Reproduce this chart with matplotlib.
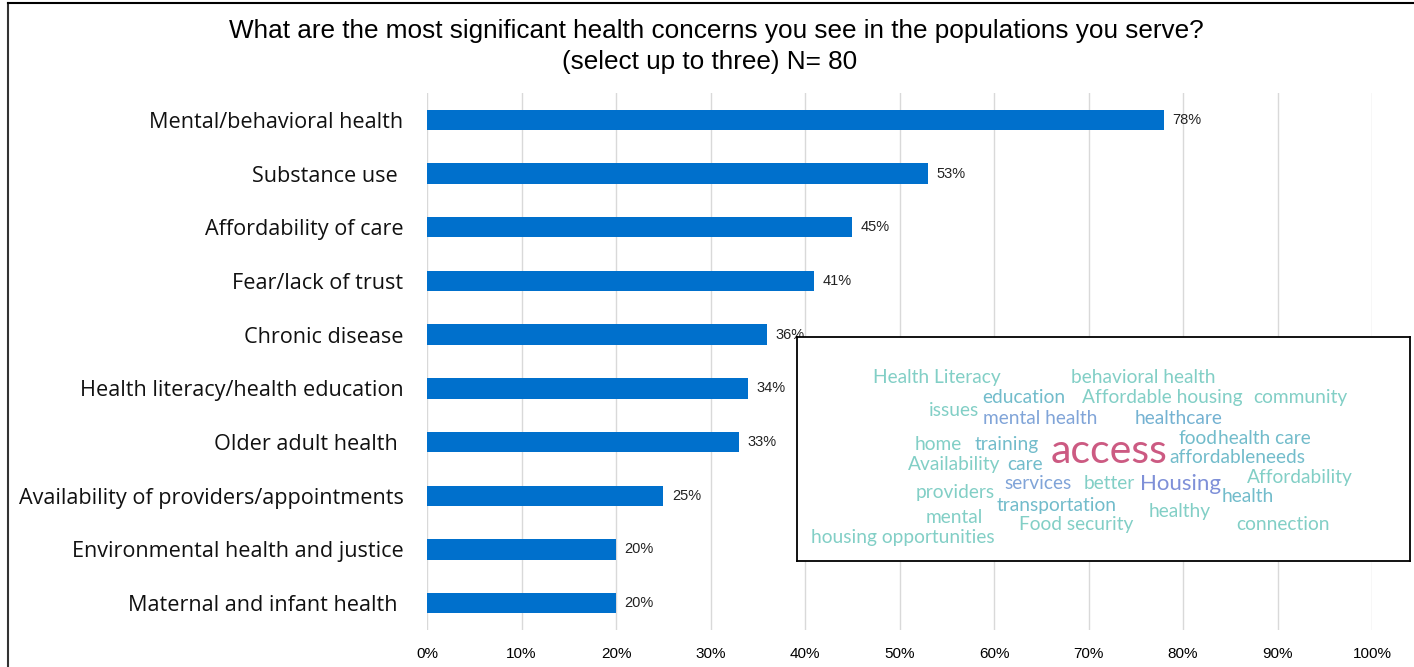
import matplotlib
matplotlib.use('Agg')
import matplotlib.pyplot as plt
from matplotlib.lines import Line2D

# данные графика
categories = [
    'Mental/behavioral health',
    'Substance use ',
    'Affordability of care',
    'Fear/lack of trust',
    'Chronic disease',
    'Health literacy/health education',
    'Older adult health ',
    'Availability of providers/appointments',
    'Environmental health and justice',
    'Maternal and infant health ',
]
values = [78, 53, 45, 41, 36, 34, 33, 25, 20, 20]
x_ticks = [0, 10, 20, 30, 40, 50, 60, 70, 80, 90, 100]

# облако слов
words = ['Health Literacy', 'behavioral health', 'education', 'Affordable housing',
         'community', 'issues', 'mental health', 'healthcare', 'food', 'health care',
         'home', 'training', 'access', 'affordableneeds', 'Availability', 'care',
         'Affordability', 'services', 'better', 'Housing', 'health', 'providers',
         'transportation', 'healthy', 'mental', 'Food security', 'connection',
         'housing opportunities']
word_pos = [(0.124, 0.817), (0.447, 0.817), (0.302, 0.728), (0.465, 0.728),
            (0.744, 0.728), (0.215, 0.670), (0.303, 0.638), (0.550, 0.638),
            (0.622, 0.549), (0.687, 0.549), (0.192, 0.522), (0.289, 0.522),
            (0.414, 0.487), (0.608, 0.460), (0.181, 0.429), (0.343, 0.429),
            (0.734, 0.371), (0.338, 0.344), (0.468, 0.344), (0.560, 0.344),
            (0.693, 0.286), (0.194, 0.308), (0.326, 0.250), (0.573, 0.223),
            (0.210, 0.192), (0.362, 0.165), (0.716, 0.165), (0.023, 0.103)]
teal = '#82cfc6'
tblue = '#72bccb'
blue = '#80a4d8'
word_col = [teal, teal, tblue, teal, teal, teal, blue, '#74b2d2', tblue, tblue,
            teal, tblue, '#cc5a82', tblue, teal, tblue, teal, blue, teal, '#7f90d8',
            tblue, teal, tblue, teal, teal, teal, teal, teal]
word_size = [13.8] * len(words)
word_size[12] = 29.5
word_size[19] = 16

fig = plt.figure(figsize=(14.14, 6.67), dpi=100)
ax = fig.add_axes([427 / 1414, 1 - 630 / 667, 945 / 1414, 537 / 667])

y = list(range(len(categories)))
ax.barh(y, values, height=0.38, color='#0070cc', zorder=3)
for yi, v in zip(y, values):
    ax.text(v + 0.9, yi, f'{v}%', va='center', ha='left', fontsize=10.5,
            family='Liberation Sans', color='#222222')

ax.set_xlim(0, 100)
ax.set_ylim(len(categories) - 0.5, -0.5)
ax.set_xticks(x_ticks)
ax.set_xticklabels([f'{t}%' for t in x_ticks], family='Liberation Sans', fontsize=11)
ax.set_yticks(y)
ax.set_yticklabels(categories, family='Open Sans', fontsize=15.6, color='#111111')
ax.tick_params(axis='y', length=0, pad=17)
ax.tick_params(axis='x', length=0, pad=12)
ax.grid(axis='x', color='#d9d9d9', linewidth=1, zorder=0)
for s in ax.spines.values():
    s.set_visible(False)

fig.text(716 / 1414, 1 - 31 / 667,
         'What are the most significant health concerns you see in the populations you serve?',
         ha='center', va='center', fontsize=18.8, family='Liberation Sans')
fig.text(710 / 1414, 1 - 62 / 667, '(select up to three) N= 80',
         ha='center', va='center', fontsize=18.8, family='Liberation Sans')

# рамка слайда
fig.add_artist(Line2D([8 / 1414, 8 / 1414], [0, 1 - 3 / 667], color='#333333', lw=1.5))
fig.add_artist(Line2D([8 / 1414, 1], [1 - 3 / 667, 1 - 3 / 667], color='black', lw=1.5))

# вставка с облаком слов
ins = fig.add_axes([797 / 1414, 1 - 561 / 667, 613 / 1414, 224 / 667])
ins.set_xticks([])
ins.set_yticks([])
ins.set_xlim(0, 1)
ins.set_ylim(0, 1)
ins.set_facecolor('white')
for s in ins.spines.values():
    s.set_linewidth(1.3)
    s.set_color('black')
for w, (u, v), c, fs in zip(words, word_pos, word_col, word_size):
    ins.text(u, v, w, ha='left', va='center', color=c, fontsize=fs, family='Lato')

fig.savefig('out.png', dpi=100)
